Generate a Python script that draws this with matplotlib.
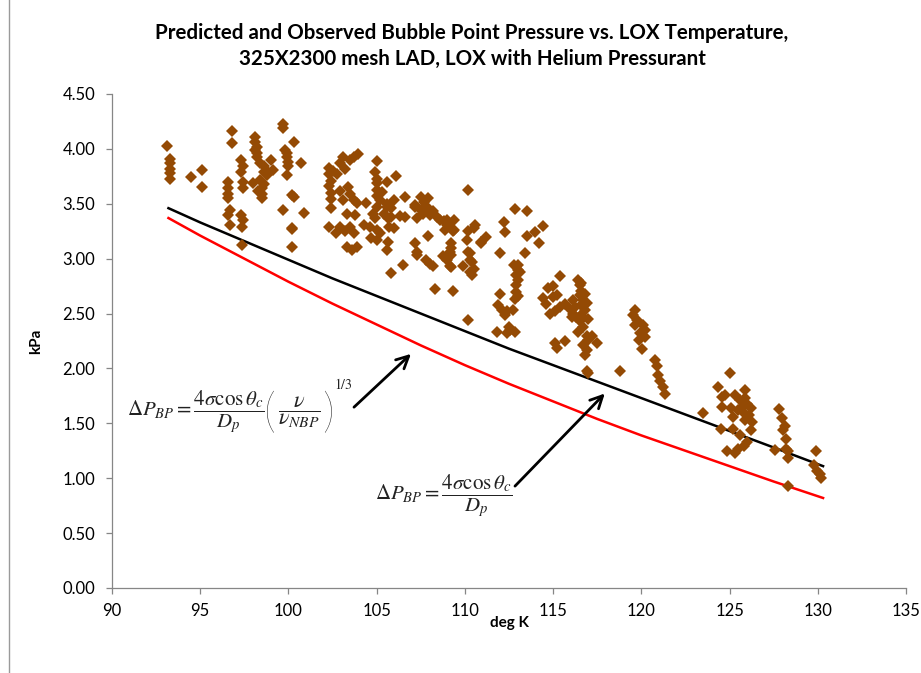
import numpy as np
import matplotlib
matplotlib.use("Agg")
import matplotlib.pyplot as plt
from matplotlib.lines import Line2D

plt.rcParams['font.family'] = ['Lato', 'DejaVu Sans']
plt.rcParams['mathtext.fontset'] = 'stix'

# model curves (deg K, kPa)
curve_temp = [93.2, 95, 97.5, 100, 102.5, 105, 107.5, 110, 112.5, 115, 117.5, 120, 122.5, 125, 127.5, 130.3]
pred_visc = [3.46, 3.33, 3.16, 2.99, 2.82, 2.66, 2.50, 2.34, 2.18, 2.03, 1.88, 1.73, 1.58, 1.43, 1.28, 1.11]
pred_basic = [3.37, 3.21, 3.00, 2.79, 2.59, 2.40, 2.21, 2.03, 1.86, 1.70, 1.54, 1.39, 1.25, 1.11, 0.97, 0.82]

# observed bubble points, grouped by test run
obs_a = [(93.1, 4.03), (93.3, 3.91), (93.3, 3.87), (93.3, 3.82), (93.3, 3.78), (93.3, 3.73),
         (94.5, 3.74), (95.1, 3.81), (95.1, 3.65)]
obs_b = [(96.8, 4.16), (96.8, 4.05), (96.6, 3.70), (96.6, 3.64), (96.6, 3.59), (96.6, 3.55),
         (96.7, 3.44), (96.6, 3.40), (96.7, 3.31), (97.3, 3.90), (97.4, 3.84), (97.3, 3.79),
         (97.4, 3.70), (97.4, 3.64), (97.3, 3.40), (97.4, 3.35), (97.35, 3.29), (97.35, 3.12)]
obs_c = [(98.1, 4.11), (98.1, 4.06), (98.2, 4.02), (98.1, 3.99), (98.2, 3.96), (98.2, 3.93),
         (98.4, 3.87), (98.6, 3.84), (98.8, 3.80), (99.0, 3.90), (99.1, 3.81), (98.8, 3.76),
         (98.6, 3.79), (98.4, 3.72), (98.3, 3.62), (98.5, 3.64), (98.0, 3.69), (98.6, 3.68),
         (98.5, 3.59), (98.5, 3.55)]
obs_d = [(99.7, 4.23), (99.7, 4.19), (100.3, 4.06), (99.8, 3.99), (99.9, 3.96), (99.9, 3.93),
         (100.0, 3.88), (100.0, 3.84), (100.7, 3.87), (99.9, 3.76), (100.3, 3.56), (100.2, 3.58),
         (99.7, 3.44), (100.9, 3.42), (100.2, 3.28), (100.2, 3.27), (100.2, 3.11)]
obs_e = [(102.3, 3.83), (102.3, 3.77), (102.4, 3.71), (102.3, 3.66), (102.4, 3.60), (102.4, 3.54),
         (102.4, 3.46), (102.5, 3.80), (102.75, 3.77), (102.9, 3.87), (103.1, 3.93), (103.5, 3.90),
         (103.7, 3.93), (103.95, 3.95), (103.2, 3.82), (102.9, 3.62), (103.4, 3.65), (103.7, 3.53),
         (103.1, 3.53), (103.5, 3.59), (103.9, 3.51), (103.8, 3.40), (103.3, 3.41), (102.3, 3.29),
         (102.9, 3.29), (102.7, 3.23), (103.5, 3.29), (103.7, 3.23), (103.2, 3.25), (103.3, 3.11),
         (103.9, 3.11), (103.6, 3.08)]
obs_f = [(105.0, 3.89), (104.9, 3.79), (105.0, 3.73), (105.0, 3.69), (105.0, 3.63), (105.0, 3.57),
         (105.2, 3.53), (105.0, 3.47), (105.6, 3.70), (106.1, 3.75), (105.3, 3.61), (105.6, 3.50),
         (105.8, 3.46), (104.4, 3.51), (104.8, 3.41), (105.4, 3.41), (105.57, 3.47), (105.8, 3.38),
         (106.0, 3.53), (104.3, 3.31), (104.6, 3.29), (104.9, 3.37), (105.0, 3.26), (105.2, 3.23),
         (104.7, 3.19), (105.0, 3.17), (105.65, 3.37), (105.65, 3.15), (106.0, 3.28), (106.3, 3.39),
         (105.6, 3.08), (105.8, 2.87), (105.7, 3.29)]
obs_g = [(106.6, 3.56), (107.2, 3.49), (107.5, 3.56), (107.9, 3.55), (107.7, 3.52), (107.9, 3.46),
         (108.2, 3.43), (108.4, 3.38), (108.6, 3.35), (108.8, 3.34), (109.0, 3.31), (107.5, 3.44),
         (107.65, 3.41), (108.0, 3.40), (107.2, 3.47), (107.3, 3.37), (106.6, 3.38), (107.2, 3.14),
         (107.3, 3.06), (107.3, 3.03), (107.9, 3.21), (107.8, 2.99), (108.0, 2.95), (108.2, 2.93),
         (106.5, 2.94), (108.3, 2.72), (109.3, 2.71), (109.0, 3.35), (109.2, 3.28), (109.4, 3.26),
         (109.2, 3.14), (109.2, 3.10), (109.2, 3.03), (109.2, 2.92), (108.9, 3.26), (109.1, 3.31),
         (109.4, 3.35), (109.35, 3.25), (109.16, 3.06), (108.97, 2.99), (108.78, 3.02), (109.16, 2.93)]
obs_h = [(110.2, 3.63), (110.2, 3.25), (110.5, 3.28), (110.1, 3.17), (110.3, 3.05), (110.4, 2.97),
         (110.5, 2.91), (109.9, 2.93), (110.9, 3.14), (111.2, 3.20), (110.2, 2.44), (110.3, 2.99),
         (110.2, 3.06), (110.6, 3.31), (110.9, 3.15), (110.3, 2.88), (110.4, 2.85)]
obs_i = [(112.85, 3.45), (113.5, 3.43), (112.2, 3.33), (112.3, 3.24), (113.5, 3.21), (114.0, 3.24),
         (114.4, 3.30), (114.2, 3.14), (112.0, 3.05), (113.4, 3.05), (112.8, 2.94), (113.0, 2.94),
         (113.1, 2.88), (112.9, 2.85), (113.0, 2.81), (112.9, 2.76), (112.9, 2.70), (113.0, 2.66),
         (113.0, 2.90), (112.0, 2.68), (111.9, 2.58), (112.1, 2.53), (112.3, 2.49), (111.8, 2.33),
         (112.4, 2.32), (112.85, 2.33), (112.5, 2.38), (112.85, 2.63), (112.4, 2.52), (112.75, 2.53),
         (112.56, 2.35)]
obs_j = [(115.4, 2.84), (114.7, 2.73), (115.0, 2.75), (115.2, 2.67), (115.0, 2.65), (114.45, 2.64),
         (114.6, 2.59), (114.8, 2.50), (115.1, 2.52), (115.4, 2.56), (115.7, 2.59), (115.9, 2.55),
         (116.1, 2.50), (116.4, 2.81), (116.5, 2.76), (116.6, 2.71), (116.5, 2.67), (116.7, 2.62),
         (116.6, 2.58), (116.8, 2.53), (116.3, 2.47), (116.5, 2.43), (116.7, 2.38), (116.4, 2.33),
         (116.9, 2.30), (117.0, 2.26), (116.7, 2.21), (116.9, 2.17), (116.8, 2.12), (116.25, 2.56),
         (116.06, 2.47), (116.15, 2.62), (115.1, 2.23), (115.2, 2.19), (115.7, 2.25), (117.5, 2.23),
         (117.2, 2.30), (116.9, 1.98), (117.0, 1.96), (118.8, 1.98), (116.6, 2.78), (116.8, 2.68),
         (116.9, 2.60), (117.0, 2.45), (116.6, 2.49)]
obs_k = [(119.65, 2.53), (119.55, 2.49), (119.74, 2.44), (119.65, 2.40), (120.1, 2.40), (120.2, 2.35),
         (119.9, 2.32), (120.2, 2.29), (119.84, 2.26), (120.03, 2.18), (120.8, 2.08), (120.9, 2.02),
         (120.97, 1.94), (121.07, 1.89), (121.25, 1.83), (121.35, 1.77)]
obs_l = [(123.5, 1.59), (124.5, 1.45), (124.37, 1.83), (125.0, 1.96), (124.56, 1.74), (124.75, 1.76),
         (125.3, 1.76), (124.56, 1.65), (125.2, 1.56), (125.1, 1.64), (125.6, 1.71), (125.9, 1.73),
         (126.0, 1.68), (125.7, 1.65), (126.2, 1.64), (125.8, 1.59), (126.1, 1.58), (125.9, 1.53),
         (126.3, 1.51), (125.5, 1.62), (126.2, 1.44), (125.2, 1.45), (125.6, 1.39), (126.0, 1.33),
         (125.8, 1.29), (124.85, 1.25), (125.3, 1.23), (125.5, 1.27), (125.85, 1.80)]
obs_m = [(127.8, 1.63), (128.0, 1.55), (128.15, 1.48), (128.05, 1.44), (128.2, 1.36), (128.2, 1.27),
         (128.3, 1.25), (128.3, 1.18), (127.6, 1.26), (128.3, 0.93), (129.9, 1.25), (129.8, 1.12),
         (129.95, 1.07), (130.1, 1.04), (130.2, 1.00)]

obs = np.array(obs_a + obs_b + obs_c + obs_d + obs_e + obs_f + obs_g + obs_h + obs_i + obs_j + obs_k + obs_l + obs_m)

fig = plt.figure(figsize=(9.21, 6.73), dpi=100)
ax = fig.add_axes([112 / 921, 85 / 673, 794 / 921, 494 / 673])

ax.plot(obs[:, 0], obs[:, 1], 'D', color='#944A04', markersize=5.8, markeredgewidth=0, zorder=3)
ax.plot(curve_temp, pred_visc, color='black', lw=1.8, zorder=2)
ax.plot(curve_temp, pred_basic, color='#FF0000', lw=1.8, zorder=2)

ax.set_xlim(90, 135)
ax.set_ylim(0, 4.5)
ax.set_xticks(np.arange(90, 136, 5))
ax.set_yticks(np.arange(0, 4.51, 0.5))
ax.set_yticklabels([f'{v:.2f}' for v in np.arange(0, 4.51, 0.5)])
for s in ['top', 'right']:
    ax.spines[s].set_visible(False)
for s in ['left', 'bottom']:
    ax.spines[s].set_color('#868686')
    ax.spines[s].set_linewidth(0.9)
ax.tick_params(axis='both', colors='#868686', labelcolor='black', labelsize=12, length=4, width=0.9)
ax.tick_params(axis='x', pad=7)
ax.tick_params(axis='y', pad=8)

ax.set_xlabel('deg K', fontsize=11, fontweight='bold', labelpad=-2)
ax.set_ylabel('kPa', fontsize=11, fontweight='bold', labelpad=14)

fig.text(472 / 921, 1 - 46 / 673,
         'Predicted and Observed Bubble Point Pressure vs. LOX Temperature,\n325X2300 mesh LAD, LOX with Helium Pressurant',
         ha='center', va='center', fontsize=14.8, fontweight='bold', linespacing=1.35)

# formula with viscosity correction, built from pieces
fc = '#222222'
ax.text(90.85, 1.60, r'$\Delta P_{BP}=\dfrac{4\sigma\cos\theta_c}{D_p}$',
        fontsize=15, ha='left', va='center', color=fc)
ax.text(98.95, 1.58, '(', fontsize=34, family='Lato', fontweight='light', ha='center', va='center', color=fc)
ax.text(100.6, 1.60, r'$\dfrac{\nu}{\nu_{NBP}}$', fontsize=16, ha='center', va='center', color=fc)
ax.text(102.25, 1.58, ')', fontsize=34, family='Lato', fontweight='light', ha='center', va='center', color=fc)
ax.text(102.6, 1.86, r'$1/3$', fontsize=10, ha='left', va='center', color=fc)

# basic formula
ax.text(104.9, 0.83, r'$\Delta P_{BP}=\dfrac{4\sigma\cos\theta_c}{D_p}$',
        fontsize=15, ha='left', va='center', color=fc)

ax.annotate('', xy=(107.06, 2.15), xytext=(103.6, 1.63),
            arrowprops=dict(arrowstyle='->', color='black', lw=2, mutation_scale=22))
ax.annotate('', xy=(118.04, 1.79), xytext=(112.73, 0.91),
            arrowprops=dict(arrowstyle='->', color='black', lw=2, mutation_scale=22))

# chart frame line on the left
fig.add_artist(Line2D([9 / 921, 9 / 921], [0, 1], color='#9A9A9A', lw=1))

fig.savefig('out.png', dpi=100)
